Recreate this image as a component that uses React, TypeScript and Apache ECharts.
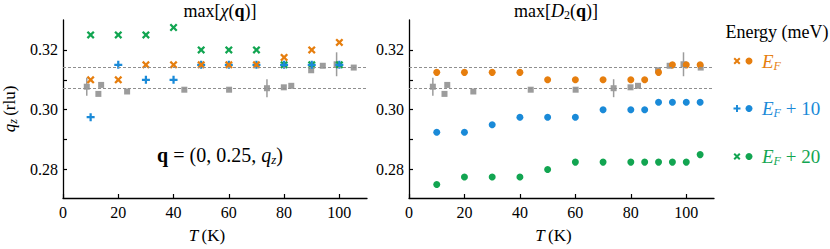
import React, { useEffect, useRef } from "react";
import * as echarts from "echarts";

// ---- data ----
const T_LEFT = [10, 20, 30, 40, 50, 60, 70, 80, 90, 100];
const CHI_EF = [0.31, 0.31, 0.315, 0.315, 0.315, 0.315, 0.315, 0.3175, 0.32, 0.3225];
const CHI_EF10 = [0.2975, 0.315, 0.31, 0.31, 0.315, 0.315, 0.315, 0.315, 0.315, 0.315];
const CHI_EF20 = [0.325, 0.325, 0.325, 0.3275, 0.32, 0.32, 0.32, 0.315, 0.315, 0.315];

const T_RIGHT = [10, 20, 30, 40, 50, 60, 70, 80, 85, 90, 95, 100, 105];
const D2_EF = [0.3125, 0.3125, 0.3125, 0.3125, 0.31, 0.31, 0.31, 0.31, 0.31, 0.3125, 0.315, 0.315, 0.315];
const D2_EF10 = [0.2925, 0.2925, 0.295, 0.2975, 0.2975, 0.2975, 0.3, 0.3, 0.3, 0.3025, 0.3025, 0.3025, 0.3025];
const D2_EF20 = [0.275, 0.2775, 0.2775, 0.2775, 0.28, 0.2825, 0.2825, 0.2825, 0.2825, 0.2825, 0.2825, 0.2825, 0.285];

const EXP_T = [8.6, 12.8, 13.8, 23.2, 43.9, 60.1, 73.8, 79.9, 82.6, 89.8, 94, 99, 105.2];
const EXP_Q = [0.3077, 0.3053, 0.3083, 0.3061, 0.3067, 0.3067, 0.3072, 0.3075, 0.308, 0.3132, 0.3147, 0.3152, 0.3141];
const EXP_ERR = [0.003, 0, 0, 0, 0, 0, 0.003, 0, 0, 0, 0, 0.004, 0];

const REF_LINES = [0.3141, 0.3072];
const X_TICKS = [0, 20, 40, 60, 80, 100];
const Y_TICKS = [0.28, 0.29, 0.3, 0.31, 0.32];
const Y_LABELS = [0.28, 0.3, 0.32];
const LEGEND_LABELS = ["", " + 10", " + 20"];

// ---- styles ----
const ORANGE = "#E67E0E";
const BLUE = "#1A8AD8";
const GREEN = "#12A551";
const GREY = "#9c9c9c";
const FONT = "'Liberation Serif', 'Times New Roman', serif";
const X_SYM = "path://M2,0L5,3L8,0L10,2L7,5L10,8L8,10L5,7L2,10L0,8L3,5L0,2Z";
const PLUS_SYM = "path://M3.6,0H6.4V3.6H10V6.4H6.4V10H3.6V6.4H0V3.6H3.6Z";

const zip = (xs: number[], ys: number[]) => xs.map((x, i) => [x, ys[i]]);

export default function App() {
  const ref = useRef<HTMLDivElement>(null);
  useEffect(() => {
    if (!ref.current) return;
    const chart = echarts.init(ref.current, undefined, { renderer: "svg" });

    const grids = [
      { left: 62, top: 20, width: 305, height: 184 },
      { left: 409, top: 20, width: 305, height: 184 },
    ];

    const mathRich = {
      r: { fontFamily: FONT, fontSize: 17, color: "#000" },
      i: { fontFamily: FONT, fontSize: 17, fontStyle: "italic", color: "#000" },
      b: { fontFamily: FONT, fontSize: 17, fontWeight: "bold", color: "#000" },
      s: { fontFamily: FONT, fontSize: 12, fontStyle: "italic", color: "#000", padding: [7, 0, 0, 0] },
    };

    const xAxisBase = (gi: number) => ({
      gridIndex: gi,
      type: "value",
      min: 0,
      max: 110,
      name: "{i|T} {r|(K)}",
      nameLocation: "middle",
      nameGap: 29,
      nameTextStyle: { rich: mathRich, padding: [0, 16, 0, 0] },
      axisLine: { show: true, onZero: false, lineStyle: { color: "#000", width: 1.3 } },
      axisTick: { show: true, inside: true, length: 4, customValues: X_TICKS, lineStyle: { color: "#000", width: 1.2 } },
      axisLabel: { customValues: X_TICKS, margin: 6, fontFamily: FONT, fontSize: 16, color: "#000" },
      splitLine: { show: false },
    });

    const yAxisBase = (gi: number) => ({
      gridIndex: gi,
      type: "value",
      min: 0.2705,
      max: 0.33,
      name: gi === 0 ? "{i|q}{s|z} {r|(rlu)}" : "",
      nameLocation: "middle",
      nameGap: 44,
      nameRotate: 90,
      nameTextStyle: { rich: mathRich },
      axisLine: { show: true, lineStyle: { color: "#000", width: 1.3 } },
      axisTick: { show: true, inside: true, length: 4, customValues: Y_TICKS, lineStyle: { color: "#000", width: 1.2 } },
      axisLabel: {
        customValues: Y_LABELS,
        margin: 5,
        fontFamily: FONT,
        fontSize: 16,
        color: "#000",
        formatter: (v: number) => v.toFixed(2),
      },
      splitLine: { show: false },
    });

    const errData = EXP_T.map((t, i) => [t, EXP_Q[i], EXP_ERR[i]]).filter((d) => d[2] > 0);

    const expSeries = (gi: number) => [
      {
        type: "custom",
        xAxisIndex: gi,
        yAxisIndex: gi,
        data: errData,
        renderItem: (_p: any, api: any) => {
          const x = api.value(0), y = api.value(1), e = api.value(2);
          const a = api.coord([x, y - e]);
          const b = api.coord([x, y + e]);
          return {
            type: "line",
            shape: { x1: a[0], y1: a[1], x2: b[0], y2: b[1] },
            style: { stroke: GREY, lineWidth: 1.5 },
          };
        },
        z: 2,
      },
      {
        type: "scatter",
        xAxisIndex: gi,
        yAxisIndex: gi,
        symbol: "rect",
        symbolSize: 6,
        itemStyle: { color: GREY, opacity: 1 },
        data: zip(EXP_T, EXP_Q),
        z: 3,
        markLine: {
          silent: true,
          symbol: ["none", "none"],
          label: { show: false },
          lineStyle: { type: [3, 2], color: "#8f8f8f", width: 1 },
          data: REF_LINES.map((v) => [
            { xAxis: 0, yAxis: v },
            { xAxis: 110, yAxis: v },
          ]),
        },
      },
    ];

    const modelScatter = (gi: number, data: number[][], color: string, symbol: string, size: number) => ({
      type: "scatter",
      xAxisIndex: gi,
      yAxisIndex: gi,
      symbol,
      symbolSize: size,
      itemStyle: { color, opacity: 1 },
      data,
      z: 4,
    });

    // legend glyphs
    const xPoly = (cx: number, cy: number, s: number) =>
      [[2, 0], [5, 3], [8, 0], [10, 2], [7, 5], [10, 8], [8, 10], [5, 7], [2, 10], [0, 8], [3, 5], [0, 2]].map(
        (p) => [cx + ((p[0] - 5) * s) / 10, cy + ((p[1] - 5) * s) / 10]
      );
    const plusPoly = (cx: number, cy: number, s: number) =>
      [[3.6, 0], [6.4, 0], [6.4, 3.6], [10, 3.6], [10, 6.4], [6.4, 6.4], [6.4, 10], [3.6, 10], [3.6, 6.4], [0, 6.4], [0, 3.6], [3.6, 3.6]].map(
        (p) => [cx + ((p[0] - 5) * s) / 10, cy + ((p[1] - 5) * s) / 10]
      );

    const legendColors = [ORANGE, BLUE, GREEN];
    const legendY = [61, 108.5, 156.5];
    const legendEls: any[] = [];
    legendColors.forEach((c, i) => {
      const y = legendY[i];
      legendEls.push({
        type: "polygon",
        shape: { points: i === 1 ? plusPoly(737, y, 7) : xPoly(737, y, 7) },
        style: { fill: c },
      });
      legendEls.push({ type: "circle", shape: { cx: 749, cy: y, r: 3.5 }, style: { fill: c } });
      legendEls.push({
        type: "text",
        x: 762,
        y,
        style: {
          text: "{i|E}{s|F}{r|" + LEGEND_LABELS[i] + "}",
          verticalAlign: "middle",
          align: "left",
          rich: {
            i: { fontFamily: FONT, fontSize: 19, fontStyle: "italic", fill: c },
            s: { fontFamily: FONT, fontSize: 12, fontStyle: "italic", fill: c, padding: [9, 0, 0, 0] },
            r: { fontFamily: FONT, fontSize: 19, fill: c },
          },
        },
      });
    });

    const option = {
      animation: false,
      grid: grids,
      xAxis: [xAxisBase(0), xAxisBase(1)],
      yAxis: [yAxisBase(0), yAxisBase(1)],
      series: [
        ...expSeries(0),
        modelScatter(0, zip(T_LEFT, CHI_EF20), GREEN, X_SYM, 8),
        modelScatter(0, zip(T_LEFT, CHI_EF10), BLUE, PLUS_SYM, 8),
        modelScatter(0, zip(T_LEFT, CHI_EF), ORANGE, X_SYM, 8),
        ...expSeries(1),
        modelScatter(1, zip(T_RIGHT, D2_EF), ORANGE, "circle", 7),
        modelScatter(1, zip(T_RIGHT, D2_EF10), BLUE, "circle", 7),
        modelScatter(1, zip(T_RIGHT, D2_EF20), GREEN, "circle", 7),
      ],
      graphic: [
        {
          type: "text",
          x: 220,
          y: 11,
          style: {
            text: "{r|max[}{i|χ}{r|(}{b|q}{r|)]}",
            align: "center",
            verticalAlign: "middle",
            rich: {
              r: { fontFamily: FONT, fontSize: 18, fill: "#000" },
              i: { fontFamily: FONT, fontSize: 18, fontStyle: "italic", fill: "#000" },
              b: { fontFamily: FONT, fontSize: 18, fontWeight: "bold", fill: "#000" },
            },
          },
        },
        {
          type: "text",
          x: 556,
          y: 11,
          style: {
            text: "{r|max[}{i|D}{s|2}{r|(}{b|q}{r|)]}",
            align: "center",
            verticalAlign: "middle",
            rich: {
              r: { fontFamily: FONT, fontSize: 18, fill: "#000" },
              i: { fontFamily: FONT, fontSize: 18, fontStyle: "italic", fill: "#000" },
              s: { fontFamily: FONT, fontSize: 12, fill: "#000", padding: [8, 0, 0, 0] },
              b: { fontFamily: FONT, fontSize: 18, fontWeight: "bold", fill: "#000" },
            },
          },
        },
        {
          type: "text",
          x: 220,
          y: 155,
          style: {
            text: "{b|q}{r| = (0, 0.25, }{i|q}{s|z}{r|)}",
            align: "center",
            verticalAlign: "middle",
            rich: {
              r: { fontFamily: FONT, fontSize: 20, fill: "#000" },
              i: { fontFamily: FONT, fontSize: 20, fontStyle: "italic", fill: "#000" },
              s: { fontFamily: FONT, fontSize: 13, fontStyle: "italic", fill: "#000", padding: [9, 0, 0, 0] },
              b: { fontFamily: FONT, fontSize: 20, fontWeight: "bold", fill: "#000" },
            },
          },
        },
        {
          type: "text",
          x: 777,
          y: 32,
          style: {
            text: "Energy (meV)",
            align: "center",
            verticalAlign: "middle",
            fontFamily: FONT,
            fontSize: 18,
            fill: "#000",
          },
        },
        ...legendEls,
      ],
    };

    chart.setOption(option as any);
    return () => chart.dispose();
  }, []);

  return <div ref={ref} style={{ width: 830, height: 249, position: "absolute", left: 0, top: 0 }} />;
}
